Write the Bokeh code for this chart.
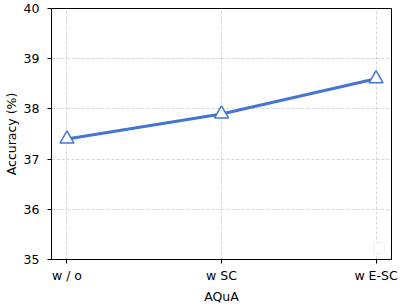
from bokeh.plotting import figure
from bokeh.models import FixedTicker, Range1d, BoxAnnotation
from bokeh.embed import file_html
from bokeh.resources import INLINE

categories = ["w / o", "w SC", "w E-SC"]
accuracy = [37.4, 37.9, 38.6]
y_ticks = [35, 36, 37, 38, 39, 40]
x_label = "AQuA"
y_label = "Accuracy (%)"

xs = list(range(len(categories)))
FONT = "DejaVu Sans"
FS = "12.5px"
BLUE = "#4475D0"

p = figure(width=404, height=306, output_backend="svg", toolbar_location=None,
           x_range=Range1d(-0.1, len(categories) - 1 + 0.1),
           y_range=Range1d(35, 40),
           min_border_left=45, min_border_right=13, min_border_top=8, min_border_bottom=44)

p.background_fill_color = "white"
p.border_fill_color = "white"
p.outline_line_color = "black"
p.outline_line_width = 1

p.xgrid.grid_line_color = "#cccccc"
p.ygrid.grid_line_color = "#cccccc"
p.xgrid.grid_line_dash = "3 2"
p.ygrid.grid_line_dash = "3 2"
p.xgrid.grid_line_width = 0.8
p.ygrid.grid_line_width = 0.8

p.xaxis.ticker = FixedTicker(ticks=xs)
p.xaxis.major_label_overrides = {i: c for i, c in enumerate(categories)}
p.yaxis.ticker = FixedTicker(ticks=y_ticks)

for ax in (p.xaxis[0], p.yaxis[0]):
    ax.axis_line_color = "black"
    ax.axis_line_width = 1
    ax.major_tick_line_color = "black"
    ax.major_tick_in = 0
    ax.major_tick_out = 4
    ax.minor_tick_line_color = None
    ax.major_label_text_font = FONT
    ax.major_label_text_font_size = FS
    ax.major_label_text_color = "black"
    ax.axis_label_text_font = FONT
    ax.axis_label_text_font_size = FS
    ax.axis_label_text_font_style = "normal"
    ax.axis_label_text_color = "black"

p.xaxis.axis_label = x_label
p.yaxis.axis_label = y_label
p.xaxis.major_label_standoff = 4
p.xaxis.axis_label_standoff = 3
p.yaxis.major_label_standoff = 8
p.yaxis.axis_label_standoff = 2

p.line(xs, accuracy, line_color=BLUE, line_width=3)
p.scatter(xs, accuracy, marker="triangle", size=14, fill_color="white",
          line_color=BLUE, line_width=1.5)

# empty legend frame (bottom right), as in the reference
p.add_layout(BoxAnnotation(left=1.985, right=2.055, bottom=35.119, top=35.337,
                           fill_color="white", fill_alpha=1.0,
                           line_color="#c8c8c8", line_width=1, border_radius=2))

open("out.html", "w").write(file_html(p, INLINE))
